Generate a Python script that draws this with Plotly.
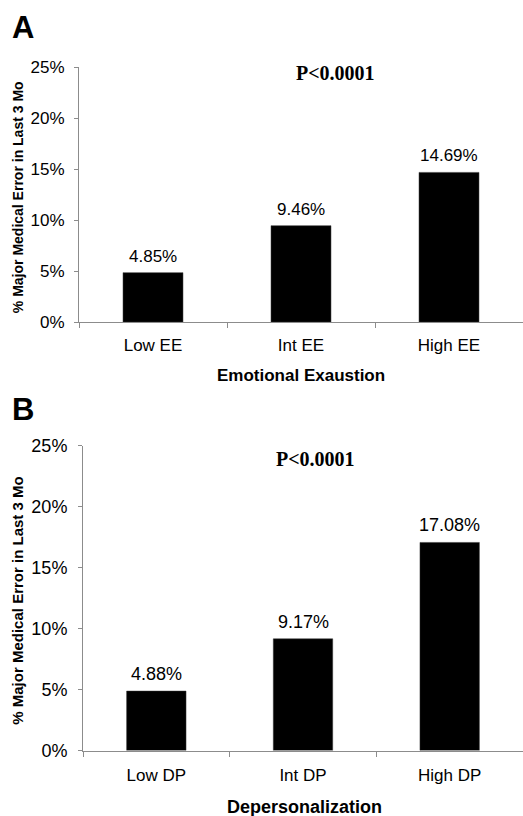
import plotly.graph_objects as go
from plotly.subplots import make_subplots

W, H = 523, 830
# vertical mapping of the photographed page (measured): screen = 9.6 + 0.977 * page_y
SY0, SYK = 9.6, 0.977

cats_a = ["Low EE", "Int EE", "High EE"]
vals_a = [4.85, 9.46, 14.69]
cats_b = ["Low DP", "Int DP", "High DP"]
vals_b = [4.88, 9.17, 17.08]
yticks = [0, 5, 10, 15, 20, 25]
ytick_labels = ["0%", "5%", "10%", "15%", "20%", "25%"]
title_a = "Emotional Exaustion"
title_b = "Depersonalization"
ytitle = "% Major Medical Error in Last 3 Mo"
ptext = "P<0.0001"


def py(px):
    return 1 - ((px - SY0) / SYK) / H


def pxx(px):
    return px / W


fig = make_subplots(rows=2, cols=1)

fig.add_trace(go.Bar(x=cats_a, y=vals_a, width=0.405,
                     marker=dict(color="black", line=dict(color="#333", width=0.5)),
                     showlegend=False), row=1, col=1)
fig.add_trace(go.Bar(x=cats_b, y=vals_b, width=0.405,
                     marker=dict(color="black", line=dict(color="#333", width=0.5)),
                     showlegend=False), row=2, col=1)

axcol = "#8c8c8c"
common_x = dict(showline=True, linecolor=axcol, linewidth=1, ticks="outside",
                tickson="boundaries", ticklen=5, tickcolor=axcol, showgrid=False,
                zeroline=False, range=[-0.5, 2.5])
common_y = dict(showline=True, linecolor=axcol, linewidth=1, ticks="outside",
                ticklen=4, tickcolor=axcol, showgrid=False, zeroline=False,
                range=[0, 25], tickvals=yticks, ticktext=ytick_labels)

fig.update_layout(
    xaxis=dict(domain=[pxx(79), 1.0], ticklabelstandoff=8,
               tickfont=dict(family="Liberation Sans, Arial", size=17, color="black"),
               **common_x),
    yaxis=dict(domain=[py(322), py(67)], ticklabelstandoff=6,
               tickfont=dict(family="Liberation Sans, Arial", size=17, color="black"),
               **common_y),
    xaxis2=dict(domain=[pxx(83), 1.0], ticklabelstandoff=9,
                tickfont=dict(family="Liberation Sans, Arial", size=17, color="black"),
                **common_x),
    yaxis2=dict(domain=[py(751), py(446)], ticklabelstandoff=7,
                tickfont=dict(family="Liberation Sans, Arial", size=18, color="black"),
                **common_y),
)

ann = []
for c, v in zip(cats_a, vals_a):
    ann.append(dict(x=c, y=v, xref="x", yref="y", text=f"{v:.2f}%", showarrow=False,
                    yanchor="bottom", yshift=5,
                    font=dict(family="Liberation Sans, Arial", size=17, color="black")))
for c, v in zip(cats_b, vals_b):
    ann.append(dict(x=c, y=v, xref="x2", yref="y2", text=f"{v:.2f}%", showarrow=False,
                    yanchor="bottom", yshift=5,
                    font=dict(family="Liberation Sans, Arial", size=18, color="black")))
ann.append(dict(x=pxx(335), y=py(73), xref="paper", yref="paper", text=f"<b>{ptext}</b>",
                showarrow=False, xanchor="center", yanchor="middle",
                font=dict(family="Liberation Serif, Times New Roman", size=20, color="black")))
ann.append(dict(x=pxx(315), y=py(459), xref="paper", yref="paper", text=f"<b>{ptext}</b>",
                showarrow=False, xanchor="center", yanchor="middle",
                font=dict(family="Liberation Serif, Times New Roman", size=20, color="black")))
ann.append(dict(x=pxx(10), y=py(27), xref="paper", yref="paper", text="<b>A</b>",
                showarrow=False, xanchor="left", yanchor="middle",
                font=dict(family="Liberation Sans, Arial", size=31, color="black")))
ann.append(dict(x=pxx(10), y=py(410), xref="paper", yref="paper", text="<b>B</b>",
                showarrow=False, xanchor="left", yanchor="middle",
                font=dict(family="Liberation Sans, Arial", size=31, color="black")))
ann.append(dict(x=pxx(301), y=py(376), xref="paper", yref="paper", text=f"<b>{title_a}</b>",
                showarrow=False, xanchor="center", yanchor="middle",
                font=dict(family="Liberation Sans, Arial", size=17, color="black")))
ann.append(dict(x=pxx(304), y=py(807), xref="paper", yref="paper", text=f"<b>{title_b}</b>",
                showarrow=False, xanchor="center", yanchor="middle",
                font=dict(family="Liberation Sans, Arial", size=18, color="black")))
ann.append(dict(x=pxx(18), y=py(197), xref="paper", yref="paper", text=f"<b>{ytitle}</b>",
                showarrow=False, xanchor="center", yanchor="middle", textangle=-90,
                font=dict(family="Liberation Sans, Arial", size=14, color="black")))
ann.append(dict(x=pxx(18), y=py(601), xref="paper", yref="paper", text=f"<b>{ytitle}</b>",
                showarrow=False, xanchor="center", yanchor="middle", textangle=-90,
                font=dict(family="Liberation Sans, Arial", size=15, color="black")))

fig.update_layout(
    width=W, height=H, margin=dict(l=0, r=0, t=0, b=0),
    paper_bgcolor="white", plot_bgcolor="white",
    annotations=ann, bargap=0.6,
)

fig.write_html(
    "out.html",
    config=dict(displayModeBar=False),
    post_script="document.body.style.margin='0';document.body.style.padding='0';"
                "document.documentElement.style.overflow='hidden';",
)
